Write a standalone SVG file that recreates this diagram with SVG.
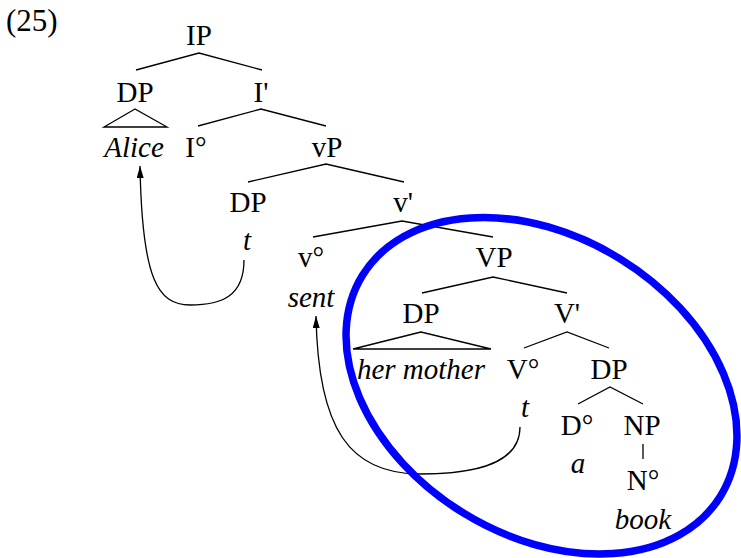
<svg xmlns="http://www.w3.org/2000/svg" width="741" height="558" viewBox="0 0 741 558">
<defs>
<style>
text{font-family:"Liberation Serif","Times New Roman",serif;font-size:29px;fill:#000;text-anchor:middle}
text.i{font-style:italic}
.br{fill:none;stroke:#000;stroke-width:1.3}
.mv{fill:none;stroke:#000;stroke-width:1.3}
</style>
<marker id="ah" markerUnits="userSpaceOnUse" markerWidth="13" markerHeight="8" refX="12" refY="3.5" orient="auto">
<path d="M0,0 L12,3.5 L0,7 z" fill="#000"/>
</marker>
</defs>
<rect width="741" height="558" fill="#fff"/>
<text x="6" y="31" style="text-anchor:start;font-size:31px">(25)</text>
<g id="connectors">
<polyline class="br" points="136,70 199,53 262,70"/>
<polygon class="br" points="135,109 104,127 167,127"/>
<polyline class="br" points="198,126 261,109 326,126"/>
<polyline class="br" points="248,182 326,164 404,182"/>
<polyline class="br" points="313,237 402,221 493,237"/>
<polyline class="br" points="422,293 493,277 567,293"/>
<polygon class="br" points="421,332 353,349 491,349"/>
<polyline class="br" points="524,348 567,332 609,348"/>
<polyline class="br" points="578,404 610,387 643,404"/>
<line class="br" x1="643" y1="444" x2="643" y2="459"/>
<path class="mv" d="M244,260 C244,296 222,305 190,305 C158,305 142,280 140,166" marker-end="url(#ah)"/>
<path class="mv" d="M520,427 C520,462 480,474 420,474 C350,474 318,430 316,316" marker-end="url(#ah)"/>
</g>
<g id="n-IP"><text x="199" y="45">IP</text></g>
<g id="n-DP1"><text x="135" y="102">DP</text></g>
<g id="n-Ibar"><text x="261" y="102">I'</text></g>
<g id="n-Alice"><text class="i" x="134" y="157">Alice</text></g>
<g id="n-I0"><text x="196" y="157">I°</text></g>
<g id="n-vP"><text x="327" y="157">vP</text></g>
<g id="n-DP2"><text x="248" y="212">DP</text></g>
<g id="n-vbar"><text x="403" y="212">v'</text></g>
<g id="n-t1"><text class="i" x="247" y="250">t</text></g>
<g id="n-v0"><text x="311" y="267">v°</text></g>
<g id="n-VP"><text x="494" y="267">VP</text></g>
<g id="n-sent"><text class="i" x="311" y="307">sent</text></g>
<g id="n-DP3"><text x="421" y="323">DP</text></g>
<g id="n-Vbar"><text x="567" y="323">V'</text></g>
<g id="n-hermother"><text class="i" x="421" y="379">her mother</text></g>
<g id="n-V0"><text x="523" y="379">V°</text></g>
<g id="n-DP4"><text x="609" y="379">DP</text></g>
<g id="n-t2"><text class="i" x="525" y="417">t</text></g>
<g id="n-D0"><text x="577" y="435">D°</text></g>
<g id="n-NP"><text x="642" y="435">NP</text></g>
<g id="n-a"><text class="i" x="578" y="473">a</text></g>
<g id="n-N0"><text x="643" y="490">N°</text></g>
<g id="n-book"><text class="i" x="643" y="529">book</text></g>
<g id="highlight"><ellipse cx="541.5" cy="385.75" rx="210.3" ry="149.3" transform="rotate(31.6 541.5 385.75)" fill="none" stroke="#0000ff" stroke-width="7.5"/></g>
</svg>
